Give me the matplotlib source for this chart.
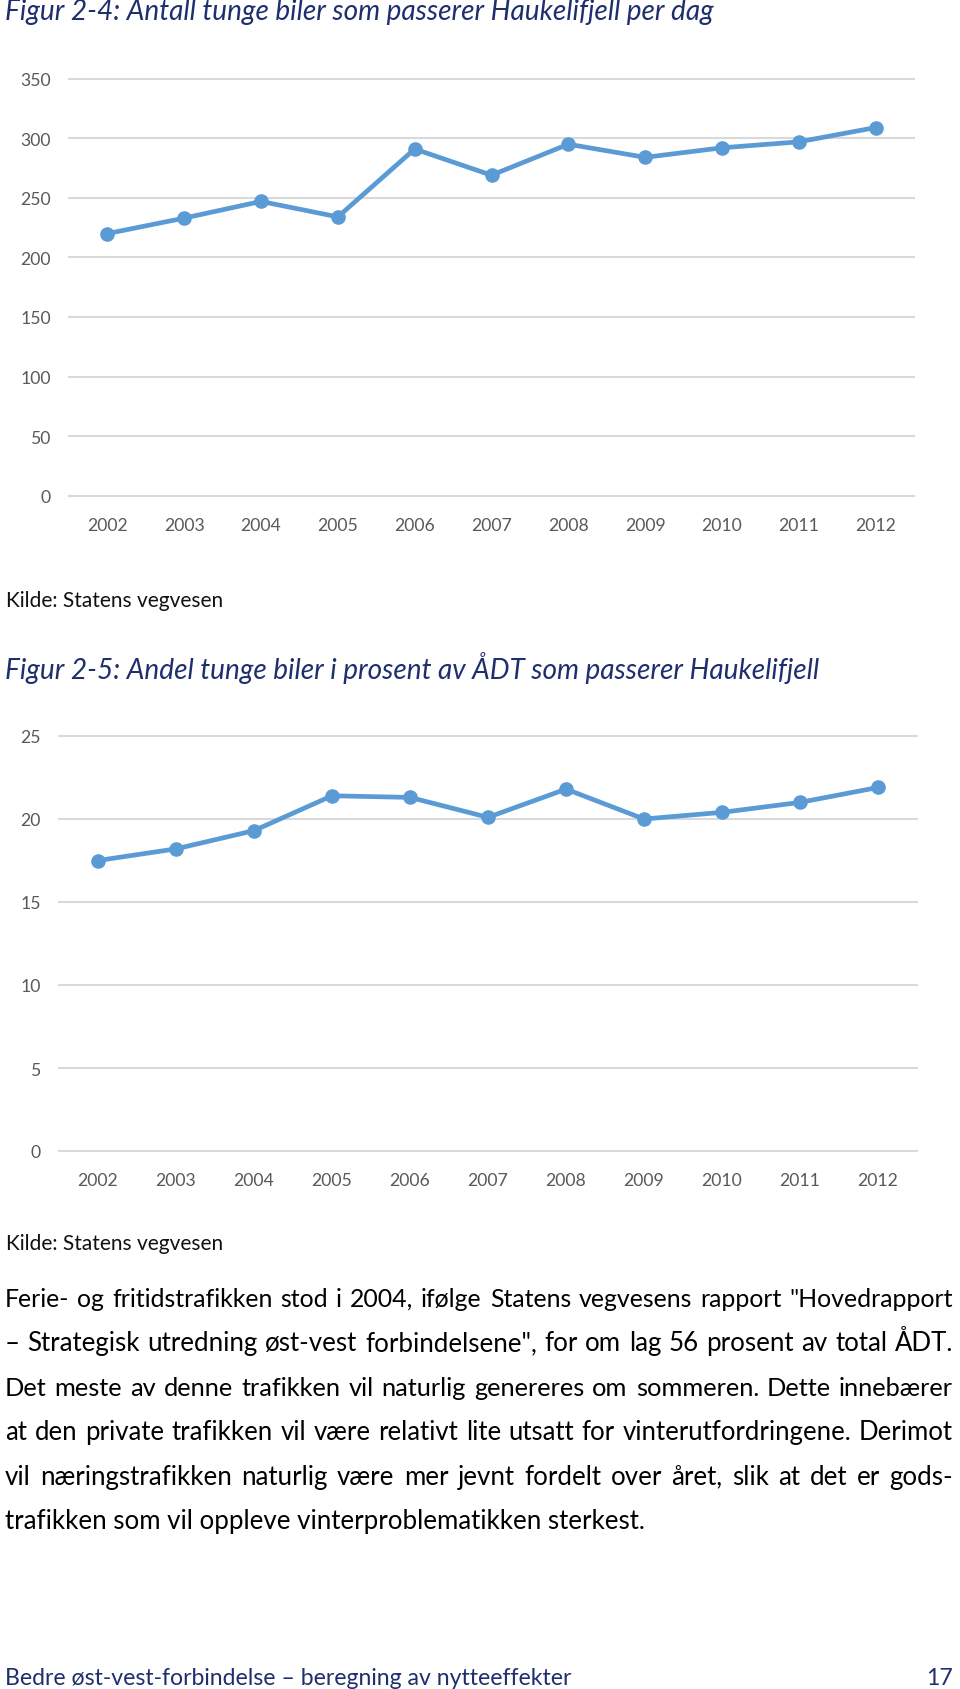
import matplotlib
matplotlib.use("Agg")
import matplotlib.pyplot as plt

# ---------------- data ----------------
years = ["2002", "2003", "2004", "2005", "2006", "2007", "2008", "2009", "2010", "2011", "2012"]
heavy_per_day = [220, 233, 247, 234, 291, 269, 295, 284, 292, 297, 309]
heavy_share_pct = [17.5, 18.2, 19.3, 21.4, 21.3, 20.1, 21.8, 20.0, 20.4, 21.0, 21.9]
yticks_1 = [0, 50, 100, 150, 200, 250, 300, 350]
yticks_2 = [0, 5, 10, 15, 20, 25]

title_1 = "Figur 2-4: Antall tunge biler som passerer Haukelifjell per dag"
title_2 = "Figur 2-5: Andel tunge biler i prosent av ÅDT som passerer Haukelifjell"
source = "Kilde: Statens vegvesen"
paragraph = [
    "Ferie- og fritidstrafikken stod i 2004, ifølge Statens vegvesens rapport \"Hovedrapport",
    "– Strategisk utredning øst-vest forbindelsene\", for om lag 56 prosent av total ÅDT.",
    "Det meste av denne trafikken vil naturlig genereres om sommeren. Dette innebærer",
    "at den private trafikken vil være relativt lite utsatt for vinterutfordringene. Derimot",
    "vil næringstrafikken naturlig være mer jevnt fordelt over året, slik at det er gods-",
    "trafikken som vil oppleve vinterproblematikken sterkest.",
]
footer_left = "Bedre øst-vest-forbindelse – beregning av nytteeffekter"
footer_right = "17"

# ---------------- style ----------------
W, H = 960, 1690
LINE = "#5B9BD5"
GRID = "#D9D9D9"
TICK = "#595959"
NAVY = "#1F2F6E"
FONT = ["Lato", "DejaVu Sans"]

fig = plt.figure(figsize=(W / 100, H / 100), dpi=100)
fig.patch.set_facecolor("white")
renderer = fig.canvas.get_renderer()


def fx(x):
    return x / W


def fy(y):
    return 1 - y / H


def width_px(t):
    return t.get_window_extent(renderer).width


def fit_size(s, target, base=16, **kw):
    t = fig.text(0, 0, s, fontsize=base, **kw)
    w = width_px(t)
    t.remove()
    return base * target / w


def make_chart(rect, values, yticks, ymax):
    ax = fig.add_axes(rect)
    x = list(range(len(values)))
    ax.plot(x, values, color=LINE, lw=3.4, marker="o", ms=9.5,
            solid_capstyle="round", solid_joinstyle="round", zorder=3, clip_on=False)
    ax.set_xlim(-0.5, len(values) - 0.5)
    ax.set_ylim(0, ymax)
    ax.set_yticks(yticks)
    ax.set_xticks(x)
    ax.set_xticklabels(years)
    for sp in ax.spines.values():
        sp.set_visible(False)
    ax.tick_params(axis="both", length=0, colors=TICK, labelsize=12.7)
    ax.tick_params(axis="y", pad=13)
    ax.tick_params(axis="x", pad=15)
    for lab in ax.get_xticklabels() + ax.get_yticklabels():
        lab.set_family(FONT)
    ax.yaxis.grid(True, color=GRID, lw=1.5)
    ax.set_axisbelow(True)
    for gl in ax.get_ygridlines():
        gl.set_clip_on(False)
    ax.set_facecolor("none")
    return ax


# chart 1: gridlines from x=69..914 px, y=79.7 (350) .. 496.7 (0)
make_chart([fx(69), fy(496.7), (914 - 69) / W, (496.7 - 79.7) / H],
           heavy_per_day, yticks_1, 350)
# chart 2: gridlines from x=59..917 px, y=737 (25) .. 1152 (0)
make_chart([fx(59), fy(1152), (917 - 59) / W, (1152 - 737) / H],
           heavy_share_pct, yticks_2, 25)

# ---------------- text ----------------
tsize = fit_size(title_1, 709, family=FONT, style="italic")
fig.text(fx(5), fy(20), title_1, fontsize=tsize, family=FONT, style="italic",
         color=NAVY, va="baseline", ha="left")
fig.text(fx(5), fy(679), title_2, fontsize=tsize, family=FONT, style="italic",
         color=NAVY, va="baseline", ha="left")

ssize = fit_size(source, 218, family=FONT)
fig.text(fx(6), fy(607), source, fontsize=ssize, family=FONT, color="#111111",
         va="baseline", ha="left")
fig.text(fx(6), fy(1250), source, fontsize=ssize, family=FONT, color="#111111",
         va="baseline", ha="left")

left, right = 5, 953
bsize = fit_size(paragraph[-1], 640, family=FONT)
base0, step = 1307, 44.4
for i, line in enumerate(paragraph):
    yb = fy(base0 + step * i)
    if i == len(paragraph) - 1:
        fig.text(fx(left), yb, line, fontsize=bsize, family=FONT, color="#000000",
                 va="baseline", ha="left")
        continue
    size_i = min(bsize, fit_size(line, (right - left) * 0.99, family=FONT))
    words = line.split(" ")
    objs = [fig.text(0, yb, w, fontsize=size_i, family=FONT, color="#000000",
                     va="baseline", ha="left") for w in words]
    widths = [width_px(o) for o in objs]
    gap = (right - left - sum(widths)) / (len(words) - 1)
    xpos = left
    for o, w in zip(objs, widths):
        o.set_x(fx(xpos))
        xpos += w + gap

fsize = fit_size(footer_left, 569, family=FONT)
fig.text(fx(5), fy(1685), footer_left, fontsize=fsize, family=FONT, color=NAVY,
         va="baseline", ha="left")
fig.text(fx(953), fy(1685), footer_right, fontsize=fsize, family=FONT, color=NAVY,
         va="baseline", ha="right")

fig.savefig("out.png", dpi=100, facecolor="white")
